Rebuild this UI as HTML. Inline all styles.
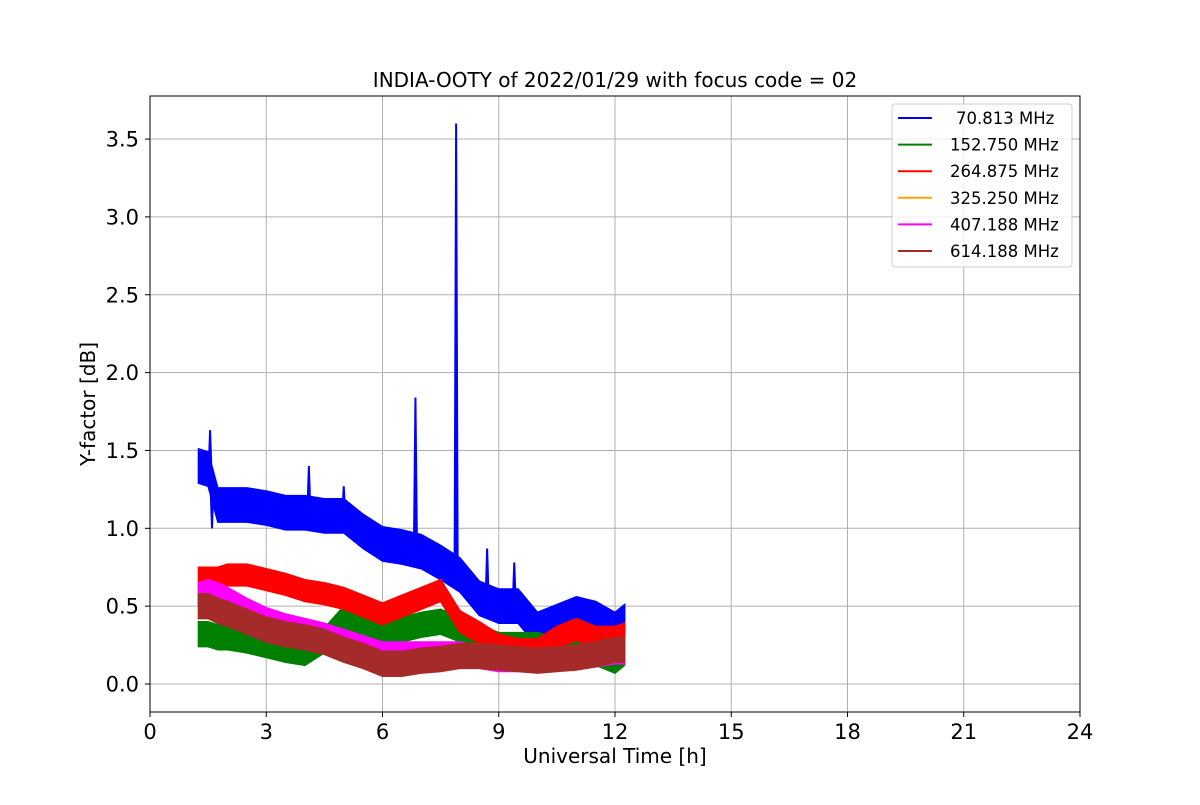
<!DOCTYPE html>
<html><head><meta charset="utf-8"><style>
body{margin:0;background:#fff}
svg text{font-family:"DejaVu Sans","Liberation Sans",sans-serif;fill:#000}
</style></head><body>
<svg id="chart" width="1200" height="800" xmlns="http://www.w3.org/2000/svg">
<rect width="1200" height="800" fill="#fff"/>
<g id="grid"></g>
<g id="series"></g>
<rect x="150" y="96" width="930" height="616" fill="none" stroke="#000" stroke-width="1"/>
<g id="ticks"></g>
<text x="615" y="87" font-size="20" text-anchor="middle">INDIA-OOTY of 2022/01/29 with focus code = 02</text>
<text x="615" y="763" font-size="20" text-anchor="middle">Universal Time [h]</text>
<text transform="translate(95,404) rotate(-90)" font-size="20" text-anchor="middle">Y-factor [dB]</text>
<g id="legend"></g>
</svg>
<script>
const xTicks=[0,3,6,9,12,15,18,21,24];
const yTicks=[0.0,0.5,1.0,1.5,2.0,2.5,3.0,3.5];
const seriesNames=["70.813 MHz","152.750 MHz","264.875 MHz","325.250 MHz","407.188 MHz","614.188 MHz"];
const seriesColors=["blue","green","red","orange","magenta","#a52a2a"];
const knotX=[1.25,1.5,1.75,2,2.5,3,3.5,4,4.5,5,5.5,6,6.5,7,7.5,8,8.5,9,9.5,10,10.5,11,11.5,12,12.25];
const blueVals=[1.4,1.38,1.15,1.15,1.15,1.13,1.1,1.1,1.08,1.08,0.98,0.9,0.88,0.85,0.78,0.7,0.55,0.5,0.5,0.35,0.4,0.45,0.42,0.35,0.4];
const greenVals=[0.32,0.32,0.3,0.3,0.28,0.25,0.22,0.2,0.28,0.42,0.4,0.35,0.35,0.38,0.4,0.35,0.3,0.25,0.25,0.25,0.22,0.2,0.2,0.15,0.2];
const redVals=[0.68,0.68,0.68,0.7,0.7,0.67,0.64,0.6,0.58,0.55,0.5,0.45,0.5,0.55,0.6,0.4,0.33,0.25,0.22,0.22,0.3,0.35,0.3,0.3,0.32];
const orangeVals=[0.56,0.57,0.55,0.53,0.48,0.42,0.38,0.35,0.32,0.28,0.24,0.2,0.2,0.2,0.2,0.2,0.17,0.15,0.15,0.15,0.16,0.18,0.18,0.2,0.2];
const magentaVals=[0.58,0.6,0.58,0.55,0.48,0.42,0.38,0.35,0.32,0.28,0.24,0.2,0.2,0.2,0.2,0.2,0.17,0.15,0.15,0.15,0.16,0.18,0.18,0.2,0.2];
const brownVals=[0.5,0.5,0.47,0.45,0.4,0.35,0.32,0.3,0.27,0.22,0.18,0.13,0.13,0.15,0.16,0.18,0.18,0.17,0.16,0.15,0.16,0.17,0.19,0.22,0.22];
const seriesSpread=[0.11,0.08,0.07,0.06,0.07,0.08];
const spikeX=[1.55,1.6,4.1,5.0,6.85,7.9,8.7,9.4];
const spikeY=[1.63,1.0,1.4,1.27,1.84,3.6,0.87,0.78];
const NS="http://www.w3.org/2000/svg";
const X=v=>150+v/24*930, Y=v=>684-v*155.7;
function mk(t,a,p){const e=document.createElementNS(NS,t);for(const k in a)e.setAttribute(k,a[k]);p.appendChild(e);return e;}
const grid=document.getElementById('grid'),ticks=document.getElementById('ticks');
xTicks.forEach(t=>{
 const g=mk('line',{x1:X(t),x2:X(t),y1:96,y2:712,stroke:'#b0b0b0','stroke-width':1},grid);
 
 
 const tk=mk('line',{x1:X(t),x2:X(t),y1:712,y2:717,stroke:'#000'},ticks);
 
 
 const l=mk('text',{x:X(t),y:739,'font-size':21,'text-anchor':'middle'},ticks);l.textContent=t;
 
 
});
yTicks.forEach(t=>{
 const g=mk('line',{x1:150,x2:1080,y1:Y(t),y2:Y(t),stroke:'#b0b0b0','stroke-width':1},grid);
 
 
 const tk=mk('line',{x1:145,x2:150,y1:Y(t),y2:Y(t),stroke:'#000'},ticks);
 
 
 const l=mk('text',{x:139,y:Y(t)+7.5,'font-size':21,'text-anchor':'end'},ticks);l.textContent=t.toFixed(1);
 
 
});
const allVals=[blueVals,greenVals,redVals,orangeVals,magentaVals,brownVals];
const sg=document.getElementById('series');
allVals.forEach((vals,i)=>{
 const c=seriesColors[i],s=seriesSpread[i];
 const up=knotX.map((x,j)=>X(x)+','+Y(vals[j]+s)).join(' ');
 const dn=knotX.map((x,j)=>X(x)+','+Y(vals[j]-s)).reverse().join(' ');
 const b=mk('polygon',{points:up+' '+dn,fill:c,stroke:c,'stroke-width':1.5},sg);
 
 
 const ln=mk('polyline',{points:knotX.map((x,j)=>X(x)+','+Y(vals[j])).join(' '),fill:'none',stroke:c,'stroke-width':2},sg);
 
 
 if(i===0){
  spikeX.forEach((sx,k)=>{
   let j=0;while(j<knotX.length-2&&knotX[j+1]<sx)j++;
   const base=vals[j]+(vals[j+1]-vals[j])*(sx-knotX[j])/(knotX[j+1]-knotX[j]);
   const sp=mk('polyline',{points:`${X(sx-0.04)},${Y(base)} ${X(sx)},${Y(spikeY[k])} ${X(sx+0.04)},${Y(base)}`,fill:c,stroke:c,'stroke-width':2},sg);
   
   
  });
 }
});
const lg=document.getElementById('legend');
const box=mk('rect',{x:892,y:104,width:180,height:163,rx:3,fill:'#fff','fill-opacity':0.8,stroke:'#ccc'},lg);


seriesNames.forEach((n,i)=>{
 const y=118+i*26.6;
 const l=mk('line',{x1:898,x2:932,y1:y,y2:y,stroke:seriesColors[i],'stroke-width':2},lg);
 
 
 const t=mk('text',{x:i===0?956:950,y:y+6,'font-size':16.5},lg);t.textContent=n;
 
 
});
</script>
</body></html>
